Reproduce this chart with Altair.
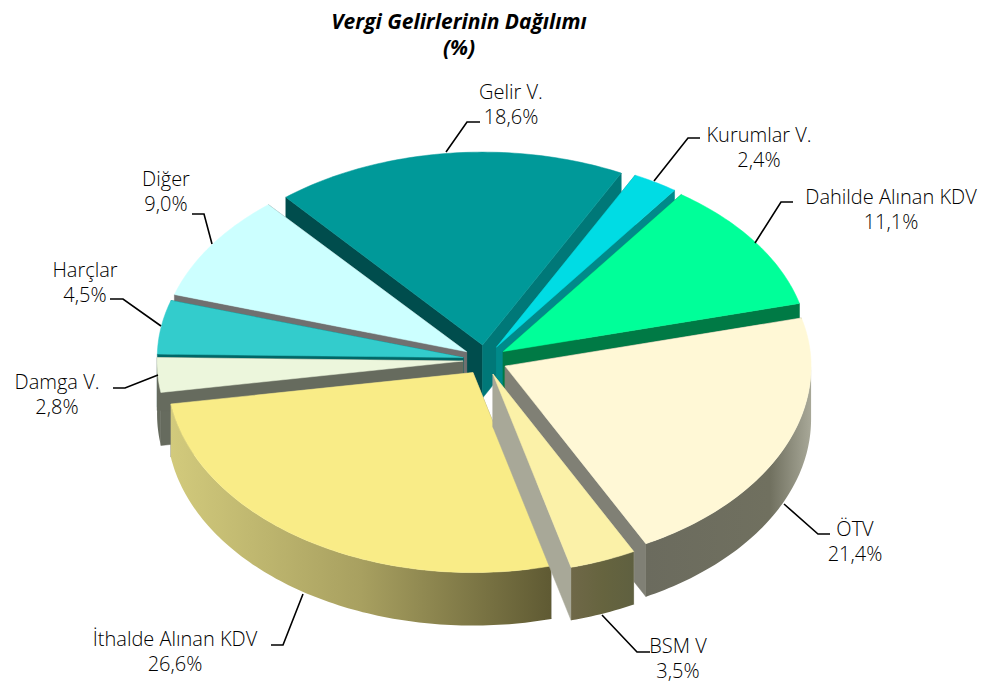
import math
import altair as alt

names = ["Gelir V.", "Kurumlar V.", "Dahilde Alınan KDV", "ÖTV", "BSM V", "İthalde Alınan KDV", "Damga V.", "Harçlar", "Diğer"]
shares = [18.6, 2.4, 11.1, 21.4, 3.5, 26.6, 2.8, 4.5, 9.0]
value_text = ["18,6%", "2,4%", "11,1%", "21,4%", "3,5%", "26,6%", "2,8%", "4,5%", "9,0%"]
top_colors = ["#009999", "#00DCE4", "#00FF99", "#FFF8D6", "#FBF1A8", "#F9EC87", "#ECF6DC", "#33CCCC", "#CCFFFF"]
start_cut = ["#004D4D", "#008A8A", "#007A45", "#808075", "#A8A898", "#808075", "#666B5E", "#006666", "#707070"]
end_cut = ["#007878", "#008A8A", "#007A45", "#808075", "#A8A898", "#808075", "#666B5E", "#006666", "#707070"]
wall_stops = {
    3: [(0, "#6B6B5E"), (0.75, "#70705F"), (1, "#A8A898")],
    4: [(0, "#6F6848"), (0.5, "#66643F"), (1, "#5F6040")],
    5: [(0, "#D2CA7C"), (0.5, "#A8A060"), (1, "#5F5A33")],
    6: [(0, "#666B5E"), (1, "#666B5E")],
}
draw_order = [0, 1, 2, 8, 7, 6, 3, 5, 4]

label_pos = [(511, 83), (759, 126), (891, 188), (855, 520), (678, 637), (175, 630), (57, 373), (85, 261), (166, 170)]
leaders = [
    [(446, 152), (467, 122), (480, 122)],
    [(654, 181), (688, 138), (700, 138)],
    [(755, 243), (781, 202), (793, 202)],
    [(784, 504), (818, 534), (830, 534)],
    [(602, 615), (637, 652), (650, 652)],
    [(303, 594), (283, 645), (271, 645)],
    [(158, 375), (125, 388), (113, 388)],
    [(161, 326), (123, 299), (110, 299)],
    [(212, 244), (204, 214), (192, 214)],
]

CX, CY = 485, 360
EX, EY = 22, 15
RX, RY_BACK, RY_FRONT = 306, 193, 200
DEPTH = 53
START = -40.0


def rim(ax, ay, deg):
    t = math.radians(deg)
    c = math.cos(t)
    return (ax + RX * math.sin(t), ay - (RY_BACK if c > 0 else RY_FRONT) * c)


def poly(points):
    return {"type": "Feature", "properties": {},
            "geometry": {"type": "Polygon", "coordinates": [[list(p) for p in points] + [list(points[0])]]}}


def shape(feature, **mark):
    return alt.Chart(alt.Data(values=[feature])).mark_geoshape(**mark)


layers = []
angles = []
a = START
for s in shares:
    angles.append((a, a + s * 3.6))
    a += s * 3.6

for i in draw_order:
    a0, a1 = angles[i]
    mid = math.radians((a0 + a1) / 2)
    ax, ay = CX + EX * math.sin(mid), CY - EY * math.cos(mid)
    n = max(2, int(a1 - a0) + 1)
    arc = [rim(ax, ay, a0 + (a1 - a0) * k / n) for k in range(n + 1)]
    for corner, col in ((arc[0], start_cut[i]), (arc[-1], end_cut[i])):
        layers.append(shape(poly([(ax, ay), corner, (corner[0], corner[1] + DEPTH), (ax, ay + DEPTH)]),
                            fill=col, stroke=col, strokeWidth=0.5))
    lo, hi = max(a0, 90), min(a1, 272)
    if hi > lo and i in wall_stops:
        m = max(2, int(hi - lo) + 1)
        arc_w = [rim(ax, ay, lo + (hi - lo) * k / m) for k in range(m + 1)]
        wall = arc_w + [(x, y + DEPTH) for x, y in reversed(arc_w)]
        grad = {"gradient": "linear", "x1": 0, "y1": 0, "x2": 1, "y2": 0,
                "stops": [{"offset": o, "color": c} for o, c in wall_stops[i]]}
        layers.append(shape(poly(wall), fill=grad, strokeWidth=0))
    layers.append(shape(poly([(ax, ay)] + arc), fill=top_colors[i], stroke=top_colors[i], strokeWidth=0.5))

line_features = [{"type": "Feature", "properties": {},
                  "geometry": {"type": "LineString", "coordinates": [list(p) for p in pts]}} for pts in leaders]
layers.append(alt.Chart(alt.Data(values=line_features)).mark_geoshape(filled=False, stroke="#000000", strokeWidth=1.6))

label_rows = [{"lon": p[0], "lat": p[1], "txt": f"{n}\n{v}"} for p, n, v in zip(label_pos, names, value_text)]
layers.append(
    alt.Chart(alt.Data(values=label_rows))
    .mark_text(font="Open Sans", fontSize=20, fontWeight=300, color="#000000", lineBreak="\n", lineHeight=24.5,
               align="center", baseline="top")
    .encode(longitude="lon:Q", latitude="lat:Q", text="txt:N")
)

chart = (
    alt.layer(*layers)
    .project(type="identity", scale=1, translate=[-8, -68])
    .properties(
        width=974, height=616,
        padding={"left": 0, "right": 0, "top": 60, "bottom": 0},
        autosize=alt.AutoSizeParams(type="none"),
        title=alt.TitleParams(
            ["Vergi Gelirlerinin Dağılımı", "(%)"],
            font="Open Sans", fontSize=21, fontWeight="bold", fontStyle="italic", color="#000000",
            lineHeight=26, anchor="middle", dx=-36, offset=9,
        ),
    )
    .configure_view(stroke=None)
)

chart.save("out.html", embed_options={"renderer": "svg", "actions": False})
